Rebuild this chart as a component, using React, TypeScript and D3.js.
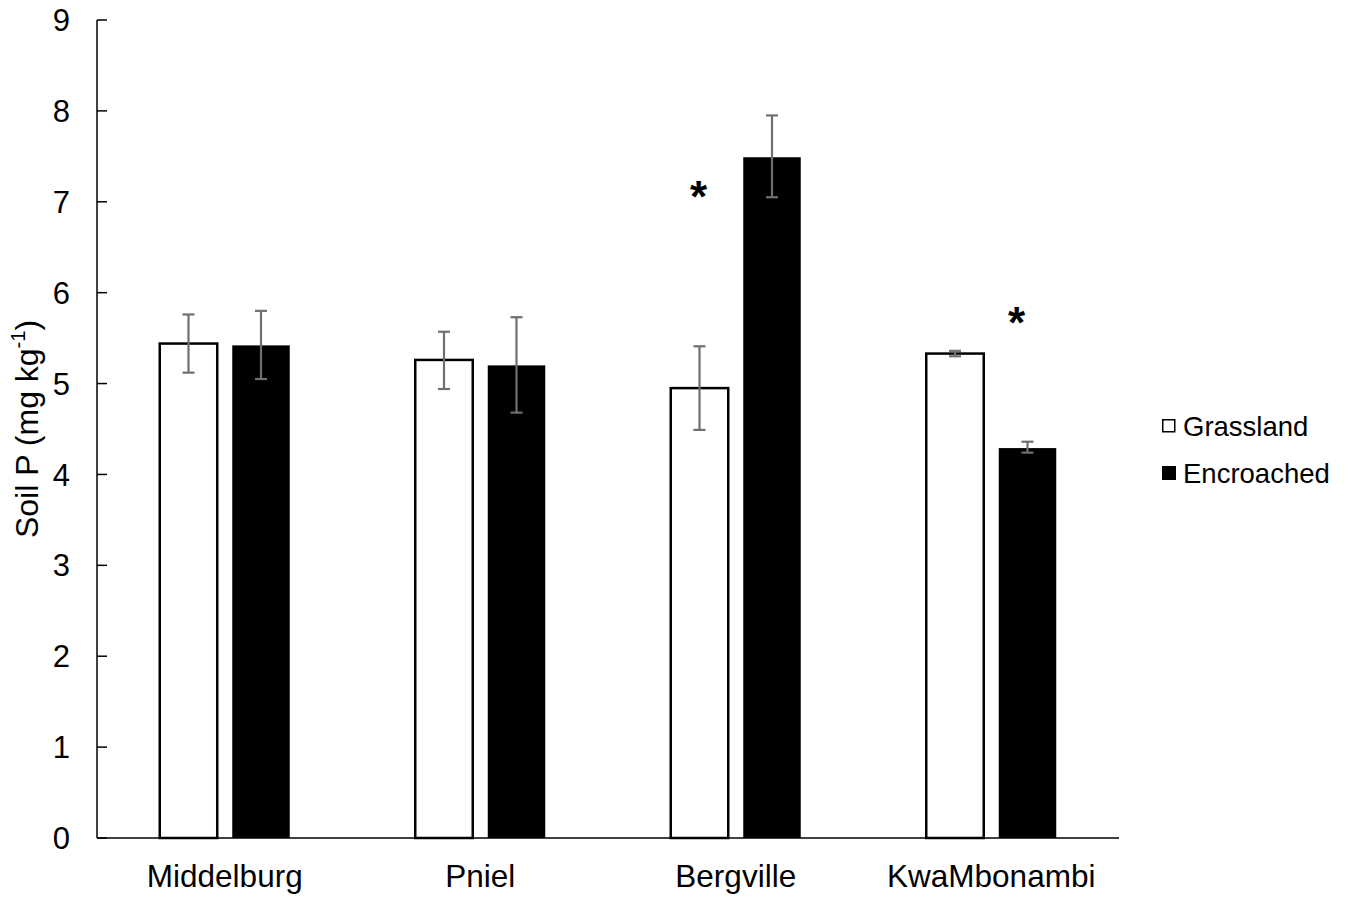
import React from "react";
import * as d3 from "d3";

const categories = ["Middelburg", "Pniel", "Bergville", "KwaMbonambi"];
const seriesNames = ["Grassland", "Encroached"];
const grasslandValues = [5.44, 5.26, 4.95, 5.33];
const grasslandLow = [5.12, 4.94, 4.49, 5.30];
const grasslandHigh = [5.76, 5.57, 5.41, 5.36];
const encroachedValues = [5.42, 5.20, 7.49, 4.29];
const encroachedLow = [5.05, 4.68, 7.05, 4.24];
const encroachedHigh = [5.80, 5.73, 7.95, 4.36];
const yTicks = [0, 1, 2, 3, 4, 5, 6, 7, 8, 9];
// significance markers: category, series, value (y position)
const markers = [
  { category: "Bergville", series: "Grassland", value: 7.1 },
  { category: "KwaMbonambi", series: "Encroached", value: 5.72 },
];

const W = 1348;
const H = 897;
const left = 97;
const right = 1119;
const top = 20;
const bottom = 838;

export default function App() {
  const x0 = d3.scaleBand<string>().domain(categories).range([left, right]);
  const x1 = d3
    .scaleBand<string>()
    .domain(seriesNames)
    .range([62.75, 62.75 + 130])
    .paddingInner(0.207);
  const y = d3.scaleLinear().domain([0, 9]).range([bottom, top]);

  const data = categories.map((c, i) => ({
    category: c,
    values: [
      { s: "Grassland", v: grasslandValues[i], lo: grasslandLow[i], hi: grasslandHigh[i] },
      { s: "Encroached", v: encroachedValues[i], lo: encroachedLow[i], hi: encroachedHigh[i] },
    ],
  }));

  const bw = x1.bandwidth();
  const font = "Arial, 'Liberation Sans', Helvetica, sans-serif";

  return (
    <svg
      width={W}
      height={H}
      style={{ position: "absolute", left: 0, top: 0, background: "#fff" }}
      fontFamily={font}
    >
      <rect x={0} y={0} width={W} height={H} fill="#fff" />
      {/* bars */}
      {data.map((d) =>
        d.values.map((b) => {
          const bx = (x0(d.category) as number) + (x1(b.s) as number);
          const isG = b.s === "Grassland";
          return (
            <rect
              key={d.category + b.s}
              x={bx}
              y={y(b.v)}
              width={bw}
              height={y(0) - y(b.v)}
              fill={isG ? "#fff" : "#000"}
              stroke="#000"
              strokeWidth={isG ? 2.5 : 0}
            />
          );
        })
      )}
      {/* error bars */}
      {data.map((d) =>
        d.values.map((b) => {
          const cx = (x0(d.category) as number) + (x1(b.s) as number) + bw / 2;
          return (
            <g key={"e" + d.category + b.s} stroke="#6f6f6f" strokeWidth={2.2}>
              <line x1={cx} x2={cx} y1={y(b.lo)} y2={y(b.hi)} />
              <line x1={cx - 6} x2={cx + 6} y1={y(b.lo)} y2={y(b.lo)} />
              <line x1={cx - 6} x2={cx + 6} y1={y(b.hi)} y2={y(b.hi)} />
            </g>
          );
        })
      )}
      {/* axes */}
      <line x1={left} x2={right} y1={bottom} y2={bottom} stroke="#000" strokeWidth={1.5} />
      <line x1={left} x2={left} y1={top} y2={bottom} stroke="#000" strokeWidth={1.5} />
      {yTicks.map((t) => (
        <g key={"t" + t}>
          <line x1={left} x2={left + 10} y1={y(t)} y2={y(t)} stroke="#000" strokeWidth={1.5} />
          <text
            x={70}
            y={y(t)}
            dy="0.36em"
            textAnchor="end"
            fontSize={31}
            fill="#000"
          >
            {t}
          </text>
        </g>
      ))}
      {categories.map((c) => (
        <text
          key={"c" + c}
          x={(x0(c) as number) + x0.bandwidth() / 2}
          y={887}
          textAnchor="middle"
          fontSize={31.5}
          fill="#000"
        >
          {c}
        </text>
      ))}
      {/* y label */}
      <text
        transform={`translate(38, ${(top + bottom) / 2}) rotate(-90)`}
        textAnchor="middle"
        fontSize={32}
        fill="#000"
      >
        Soil P (mg kg
        <tspan fontSize={20} dy={-13}>
          -1
        </tspan>
        <tspan dy={13}>)</tspan>
      </text>
      {/* significance markers */}
      {markers.map((m, i) => {
        const cx =
          (x0(m.category) as number) + (x1(m.series) as number) + bw / 2 + (i === 1 ? -11 : -1);
        return (
          <text
            key={"m" + i}
            x={cx}
            y={y(m.value)}
            dy="0.45em"
            textAnchor="middle"
            fontSize={44}
            fontWeight="bold"
            fill="#000"
          >
            *
          </text>
        );
      })}
      {/* legend */}
      {seriesNames.map((s, i) => (
        <g key={"l" + s} transform={`translate(1162, ${419 + i * 47})`}>
          <rect
            x={s === "Grassland" ? 0.75 : 0}
            y={s === "Grassland" ? 0.75 : 0}
            width={s === "Grassland" ? 12 : 14}
            height={s === "Grassland" ? 12 : 14}
            fill={s === "Grassland" ? "#fff" : "#000"}
            stroke="#000"
            strokeWidth={s === "Grassland" ? 1.5 : 0}
          />
          <text x={21} y={7} dy="0.36em" fontSize={27.5} fill="#000">
            {s}
          </text>
        </g>
      ))}
    </svg>
  );
}
